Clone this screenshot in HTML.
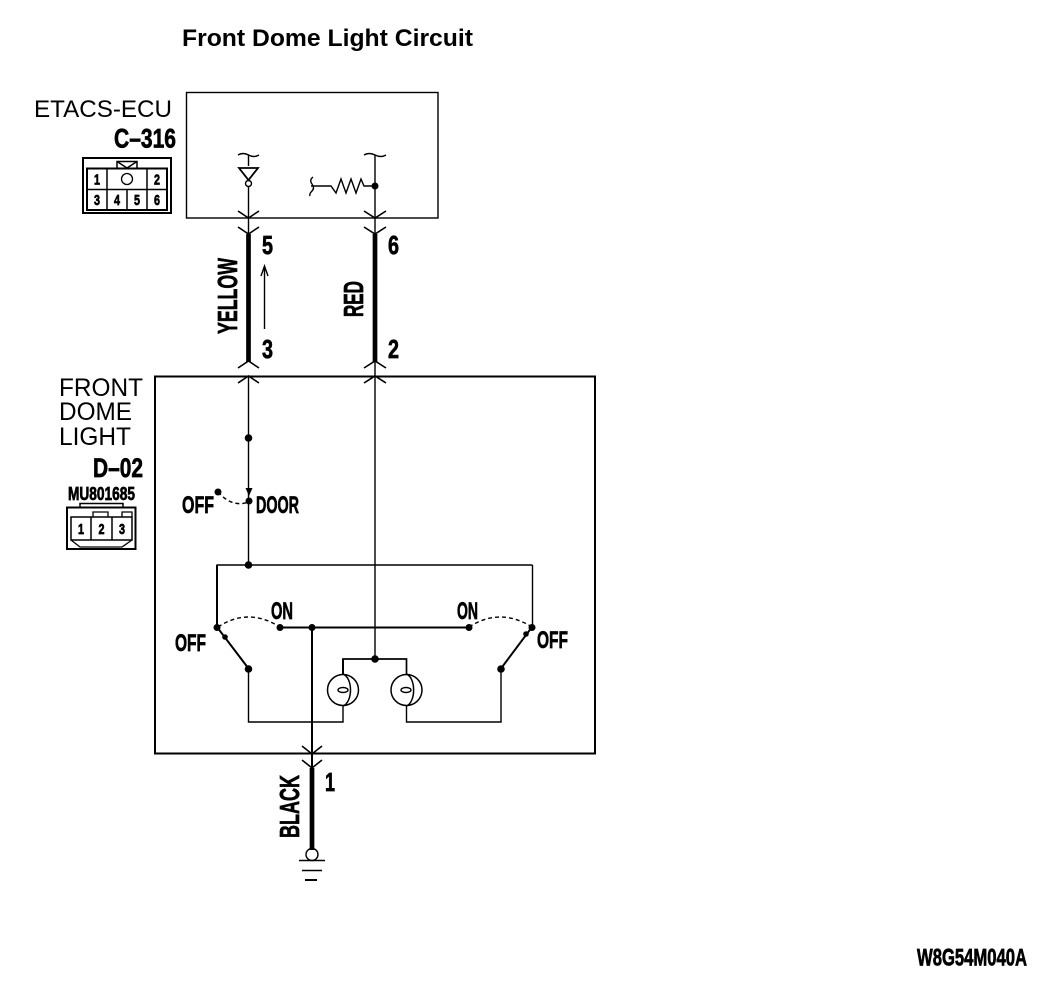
<!DOCTYPE html>
<html><head><meta charset="utf-8"><style>
html,body{margin:0;padding:0;background:#fff}
svg{display:block}
text{font-family:"Liberation Sans",sans-serif;fill:#000}
.c{font-weight:bold;stroke:#000;stroke-width:.7}
</style></head><body>
<svg width="1056" height="1002" viewBox="0 0 1056 1002" xmlns="http://www.w3.org/2000/svg">
<g fill="none" stroke="#000" stroke-width="1.4">
<!-- boxes -->
<rect x="186.500" y="92.500" width="251.500" height="125.500"/>
<rect x="155" y="376.500" width="440" height="377" stroke-width="2"/>
<!-- wires -->
<path d="M248.500 155V166M248.500 186V362M248.500 376V565M375 155V234M375 362V659"/>
<path d="M248.500 234V362M375 234V362M312 768V850" stroke-width="4.700"/>
<path d="M312 627V768" stroke-width="2"/>
<!-- chevrons -->
<g stroke-width="1.600">
<path d="M238 211L248.500 218L259 211M238 227L248.500 234L259 227M364 211L375 218L386 211M364 227L375 234L386 227"/>
<path d="M238 368L248.500 361L259 368M238 383L248.500 376L259 383M364 368L375 361L386 368M364 383L375 376L386 383"/>
<path d="M302 746L312 754L322 746M302 760L312 768L322 760"/>
</g>
<!-- ecu internals -->
<path d="M238 155Q243 152 248.500 155T259 155M364 155Q369 152 375 155T386 155"/>
<path d="M239 168H258L248.500 180Z" stroke-width="1.800"/>
<circle cx="248.500" cy="183.500" r="3"/>
<path d="M313 177Q309 180 312 184T312 191T310 196M311 186H331L336 193L341 179L346 193L351 179L356 193L361 179L364 186H375"/>
<!-- arrow -->
<path d="M264.500 329V268M261 276L264.500 266L268 276"/>
<!-- switch section -->
<path d="M216.500 565H532.500"/>
<path d="M217 565V627" stroke-width="2"/>
<path d="M532.500 565V627"/>
<path d="M280 627.500H469M217 627L248.500 668.500M532 627L501 668.500" stroke-width="2"/>
<path d="M248.500 669V722H343V706M501 669V722H406.500V706"/>
<path d="M343 674V659H406.500V674" stroke-width="1.700"/>
<path d="M343 659V674" stroke-width="2"/>
<path d="M218 627Q248 607 280 627M469 627Q500 607 532 627M218 492Q232 508 249 502" stroke-dasharray="4 3"/>
<!-- lamps -->
<circle cx="343" cy="690" r="15.500" stroke-width="1.500"/>
<circle cx="406.500" cy="690" r="15.500" stroke-width="1.500"/>
<path d="M343 674C353 678 353 702 343 706M406.500 674C416 678 416 702 406.500 706" stroke-width="1.500"/>
<ellipse cx="343" cy="690" rx="5" ry="2.500"/>
<ellipse cx="406" cy="690" rx="5" ry="2.500"/>
<!-- ground -->
<circle cx="312" cy="854.500" r="6" stroke-width="1.400"/>
<path d="M299 860.500H325M302 870.500H322"/>
<path d="M305 880H317" stroke-width="2"/>
<!-- C-316 connector -->
<rect x="83" y="158" width="88" height="55" stroke-width="2"/>
<rect x="87" y="168.500" width="80" height="41.500" stroke-width="2"/>
<path d="M87 189.500H167M107 168.500V210M147 168.500V210M127 189.500V210" stroke-width="1.500"/>
<rect x="117" y="161.500" width="20" height="7" stroke-width="1.500"/>
<path d="M117 161.500L127 168M137 161.500L127 168" stroke-width="1.500"/>
<circle cx="127" cy="179" r="5.500" stroke-width="1.300"/>
<!-- D-02 connector -->
<rect x="67" y="507.500" width="68.500" height="41.500" stroke-width="2"/>
<path d="M80 507V503.500H123V507" stroke-width="1.500"/>
<rect x="71" y="517" width="61" height="23" stroke-width="1.500"/>
<path d="M91 517V540M112 517V540" stroke-width="1.500"/>
<path d="M93 517V512H108V517M122 517V512H132V517M71 540L80 547H122L132 540" stroke-width="1.300"/>
</g>
<g fill="#000">
<circle cx="375" cy="186" r="3.500"/>
<circle cx="248.500" cy="438" r="3.800"/><circle cx="218" cy="492" r="3.500"/><circle cx="249" cy="501" r="3.500"/>
<path d="M245.500 488H252.500L249 496Z"/>
<circle cx="248.500" cy="565" r="3.800"/>
<circle cx="217" cy="627.500" r="3.500"/><circle cx="280" cy="627.500" r="3.500"/><circle cx="312" cy="627.500" r="3.500"/>
<circle cx="469" cy="627.500" r="3.500"/><circle cx="532" cy="627.500" r="3.500"/>
<circle cx="248.500" cy="669" r="3.800"/><circle cx="501" cy="669" r="3.800"/><circle cx="375" cy="659" r="3.800"/>
<circle cx="225" cy="637" r="2.800"/><circle cx="526" cy="634" r="2.800"/>
</g>
<!-- labels -->
<text x="182" y="46" font-size="24" font-weight="bold" textLength="291" lengthAdjust="spacingAndGlyphs">Front Dome Light Circuit</text>
<text x="34" y="117" font-size="24" textLength="138" lengthAdjust="spacingAndGlyphs">ETACS-ECU</text>
<text class="c" x="114" y="147.500" font-size="27" textLength="62" lengthAdjust="spacingAndGlyphs">C–316</text>
<text x="59" y="396" font-size="25" textLength="84" lengthAdjust="spacingAndGlyphs">FRONT</text>
<text x="59" y="420" font-size="25" textLength="73" lengthAdjust="spacingAndGlyphs">DOME</text>
<text x="59" y="445" font-size="25" textLength="72" lengthAdjust="spacingAndGlyphs">LIGHT</text>
<text class="c" x="93" y="477" font-size="27" textLength="50" lengthAdjust="spacingAndGlyphs">D–02</text>
<text class="c" x="68" y="500" font-size="18" textLength="67" lengthAdjust="spacingAndGlyphs">MU801685</text>
<text class="c" x="262" y="254" font-size="26" textLength="11" lengthAdjust="spacingAndGlyphs">5</text>
<text class="c" x="388" y="254" font-size="26" textLength="11" lengthAdjust="spacingAndGlyphs">6</text>
<text class="c" x="262" y="358" font-size="26" textLength="11" lengthAdjust="spacingAndGlyphs">3</text>
<text class="c" x="388" y="358" font-size="26" textLength="11" lengthAdjust="spacingAndGlyphs">2</text>
<text class="c" x="325" y="791" font-size="26" textLength="10" lengthAdjust="spacingAndGlyphs">1</text>
<text class="c" transform="translate(237 334) rotate(-90)" font-size="28" textLength="76" lengthAdjust="spacingAndGlyphs">YELLOW</text>
<text class="c" transform="translate(363 317) rotate(-90)" font-size="28" textLength="36" lengthAdjust="spacingAndGlyphs">RED</text>
<text class="c" transform="translate(299 838) rotate(-90)" font-size="28" textLength="63" lengthAdjust="spacingAndGlyphs">BLACK</text>
<text class="c" x="182" y="513" font-size="24" textLength="32" lengthAdjust="spacingAndGlyphs">OFF</text>
<text class="c" x="256" y="513" font-size="24" textLength="43" lengthAdjust="spacingAndGlyphs">DOOR</text>
<text class="c" x="175" y="651" font-size="24" textLength="31" lengthAdjust="spacingAndGlyphs">OFF</text>
<text class="c" x="271" y="619" font-size="24" textLength="22" lengthAdjust="spacingAndGlyphs">ON</text>
<text class="c" x="457" y="619" font-size="24" textLength="21" lengthAdjust="spacingAndGlyphs">ON</text>
<text class="c" x="537" y="648" font-size="24" textLength="31" lengthAdjust="spacingAndGlyphs">OFF</text>
<text class="c" x="917" y="965.500" font-size="24" textLength="110" lengthAdjust="spacingAndGlyphs">W8G54M040A</text>
<g font-size="15">
<text class="c" x="94" y="184.500" textLength="6" lengthAdjust="spacingAndGlyphs">1</text><text class="c" x="154" y="184.500" textLength="6" lengthAdjust="spacingAndGlyphs">2</text>
<text class="c" x="94" y="205" textLength="6" lengthAdjust="spacingAndGlyphs">3</text><text class="c" x="114" y="205" textLength="6" lengthAdjust="spacingAndGlyphs">4</text><text class="c" x="134" y="205" textLength="6" lengthAdjust="spacingAndGlyphs">5</text><text class="c" x="154" y="205" textLength="6" lengthAdjust="spacingAndGlyphs">6</text>
<text class="c" x="78" y="534" textLength="6" lengthAdjust="spacingAndGlyphs">1</text><text class="c" x="98.500" y="534" textLength="6" lengthAdjust="spacingAndGlyphs">2</text><text class="c" x="119" y="534" textLength="6" lengthAdjust="spacingAndGlyphs">3</text>
</g>
</svg>
</body></html>
